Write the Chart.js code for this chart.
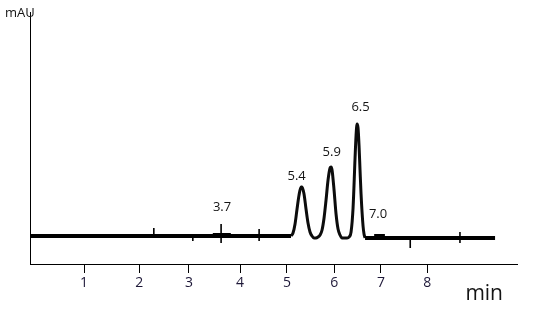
<!DOCTYPE html>
<html>
<head>
<meta charset="utf-8">
<script src="https://cdn.jsdelivr.net/npm/chart.js@4/dist/chart.umd.min.js"></script>
<style>
  html, body { margin: 0; padding: 0; background: #ffffff; }
  #c { display: block; }
</style>
</head>
<body>
<canvas id="c" width="548" height="319"></canvas>
<script>
// ---- data (minutes / mAU) ----
const xMin = -0.22, xMax = 9.77;
const yMin = -28, yMax = 224;

const tickValues = [0.89, 2.02, 3.04, 4.09, 5.05, 6.02, 6.98, 7.93];
const tickLabels = ['1', '2', '3', '4', '5', '6', '7', '8'];

// baseline before and after the peak cluster
const baseLeftTimes = [-0.22, 5.134];
const baseLeftSignal = [0, 0];
const baseRightTimes = [6.653, 9.32];
const baseRightSignal = [-2, -2];

// peak cluster trace
const peakTimes = [5.134, 5.175, 5.217, 5.258, 5.299, 5.340, 5.360, 5.401, 5.442, 5.483, 5.524, 5.565, 5.606, 5.647,
                   5.688, 5.730, 5.771, 5.812, 5.853, 5.894, 5.935, 5.955, 5.976, 6.017, 6.058, 6.099, 6.140, 6.181, 6.284,
                   6.325, 6.366, 6.407, 6.448, 6.468, 6.489, 6.509, 6.530, 6.550, 6.571, 6.612, 6.632, 6.653];
const peakSignal = [0, 3, 12, 27, 41, 49, 49, 42, 27, 13, 4, 0, -2, -2,
                    -1, 1, 6, 18, 36, 56, 68, 69, 66, 46, 22, 7, 1, -2, -2,
                    -1, 4, 28, 78, 100, 112, 108, 90, 66, 42, 10, 2, -2];

// small marks on the baseline
const markTimes = [2.32, 3.12, 3.70, 4.48, 7.58, 8.60];
const markTop = [8, 0, 12, 7, -3, 4];
const markBottom = [0, -5, -7, -5, -12, -7];

// small blocks on the baseline
const blockStart = [3.53, 6.84];
const blockEnd = [3.90, 7.06];
const blockLevel = [1.5, 0.5];

// peak annotations
const peakLabels = ['3.7', '5.4', '5.9', '6.5', '7.0'];
const peakLabelTimes = [3.72, 5.25, 5.97, 6.56, 6.92];
const peakLabelHeights = [29, 60, 84, 129, 22];

const yUnit = 'mAU';
const xUnit = 'min';

// ---- build datasets ----
const toPts = (xs, ys) => xs.map((x, i) => ({ x: x, y: ys[i] }));

const markPts = [];
markTimes.forEach((t, i) => {
  markPts.push({ x: t, y: markBottom[i] }, { x: t, y: markTop[i] }, { x: t, y: null });
});
const blockPts = [];
blockStart.forEach((s, i) => {
  blockPts.push({ x: s, y: blockLevel[i] }, { x: blockEnd[i], y: blockLevel[i] }, { x: blockEnd[i], y: null });
});

const textPlugin = {
  id: 'texts',
  afterDraw(chart) {
    const { ctx, chartArea, scales } = chart;
    ctx.save();
    ctx.fillStyle = '#141414';
    ctx.font = '13px "Open Sans", sans-serif';
    ctx.textAlign = 'center';
    ctx.textBaseline = 'middle';
    peakLabels.forEach((lab, i) => {
      ctx.fillText(lab, scales.x.getPixelForValue(peakLabelTimes[i]), scales.y.getPixelForValue(peakLabelHeights[i]));
    });
    ctx.textAlign = 'left';
    ctx.textBaseline = 'alphabetic';
    ctx.font = '13px "Open Sans", sans-serif';
    ctx.fillText(yUnit, chartArea.left - 25, chartArea.top + 5);
    ctx.textAlign = 'right';
    ctx.font = '21px "Open Sans", sans-serif';
    ctx.fillText(xUnit, chartArea.right - 14, chartArea.bottom + 36);
    ctx.restore();
  }
};

new Chart(document.getElementById('c'), {
  type: 'line',
  data: {
    datasets: [
      { data: toPts(baseLeftTimes, baseLeftSignal), borderColor: '#000', borderWidth: 4, pointRadius: 0, tension: 0 },
      { data: toPts(baseRightTimes, baseRightSignal), borderColor: '#000', borderWidth: 4, pointRadius: 0, tension: 0 },
      { data: toPts(peakTimes, peakSignal), borderColor: '#0c0c0c', borderWidth: 3, pointRadius: 0, cubicInterpolationMode: 'monotone' },
      { data: markPts, borderColor: '#000', borderWidth: 1.6, pointRadius: 0, tension: 0, spanGaps: false },
      { data: blockPts, borderColor: '#000', borderWidth: 3, pointRadius: 0, tension: 0, spanGaps: false }
    ]
  },
  options: {
    responsive: false,
    animation: false,
    devicePixelRatio: 1,
    layout: { padding: { left: 30, right: 31, top: 12, bottom: 0 } },
    plugins: { legend: { display: false }, tooltip: { enabled: false } },
    scales: {
      x: {
        type: 'linear',
        min: xMin,
        max: xMax,
        afterBuildTicks: (s) => { s.ticks = tickValues.map(v => ({ value: v })); },
        afterFit: (s) => { s.height = 55; },
        ticks: {
          autoSkip: false,
          maxRotation: 0,
          padding: 2,
          color: '#1e1838',
          font: { family: 'Open Sans', size: 14 },
          callback: (v, i) => tickLabels[i]
        },
        grid: { display: true, drawOnChartArea: false, drawTicks: true, tickLength: 9, color: '#000', lineWidth: 1 },
        border: { display: true, color: '#000', width: 1 }
      },
      y: {
        min: yMin,
        max: yMax,
        afterFit: (s) => { s.width = 0; },
        ticks: { display: false },
        grid: { display: false },
        border: { display: true, color: '#000', width: 1 }
      }
    }
  },
  plugins: [textPlugin]
});
</script>
</body>
</html>
